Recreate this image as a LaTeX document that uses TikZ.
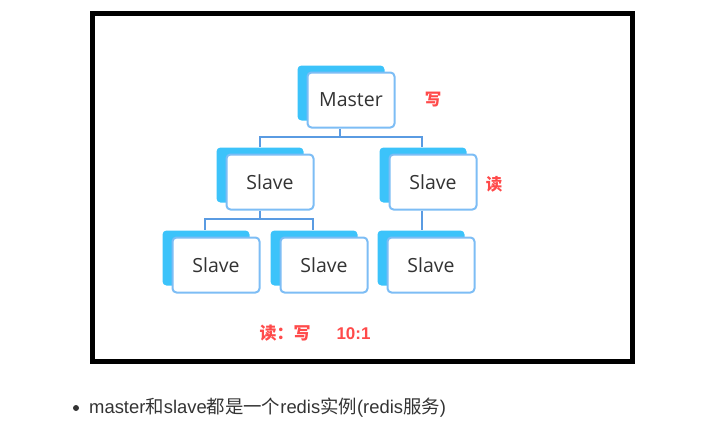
\documentclass[tikz,border=0pt]{standalone}
\usepackage{fontspec}
\setmainfont{Open Sans}
\newfontfamily\cjk{Noto Sans CJK SC}
\usetikzlibrary{shadows}
\definecolor{boxblue}{HTML}{7DBDF5}
\definecolor{backcyan}{HTML}{3CC3FA}
\definecolor{treeblue}{HTML}{5A9BE2}
\definecolor{labred}{HTML}{FF4A4A}
\definecolor{txtgray}{HTML}{333333}
\tikzset{
  redisbox/.style={draw=boxblue,line width=2pt,fill=white,rounded corners=4pt,
    minimum width=87pt,minimum height=55pt,inner sep=0pt,text=txtgray,
    font=\fontsize{19.5}{22}\selectfont,
    copy shadow={shadow xshift=-10pt,shadow yshift=7pt,fill=backcyan,draw=none}},
  treeline/.style={draw=treeblue,line width=2pt},
  redlab/.style={text=labred,font=\cjk\fontsize{16.5}{18}\selectfont\bfseries},
}
\begin{document}
\begin{tikzpicture}[x=1pt,y=-1pt]
  \useasboundingbox (0,0) rectangle (703,431);
  \draw[line width=5pt] (92.5,13.5) rectangle (632,361);
  % redis instances
  \node[redisbox] (nMaster) at (351,100) {Master};
  \node[redisbox] (nSlaveA) at (270,182) {Slave};
  \node[redisbox] (nSlaveB) at (433,182) {Slave};
  \node[redisbox] (nSlaveC) at (216,265) {Slave};
  \node[redisbox] (nSlaveD) at (324,265) {Slave};
  \node[redisbox] (nSlaveE) at (431,265) {Slave};
  % tree
  \draw[treeline] ([xshift=-11pt]nMaster.south) -- ++(0,8) coordinate (jTop);
  \draw[treeline] ([xshift=-10pt,yshift=7pt]nSlaveA.north) |- (jTop) -| ([xshift=-11pt,yshift=7pt]nSlaveB.north);
  \draw[treeline] ([xshift=-10pt]nSlaveA.south) -- ++(0,8) coordinate (jLeft);
  \draw[treeline] ([xshift=-11pt,yshift=7pt]nSlaveC.north) |- (jLeft) -| ([xshift=-11pt,yshift=7pt]nSlaveD.north);
  \draw[treeline] ([xshift=-11pt]nSlaveB.south) -- ([xshift=-9pt,yshift=7pt]nSlaveE.north);
  % labels
  \node[redlab] (lWrite) at (433,100) {写};
  \node[redlab] (lRead) at (494,184) {读};
  \node[redlab,anchor=west,font=\cjk\fontsize{17}{19}\selectfont\bfseries] (lRatio) at (256,333)
    {读：写\hspace{26pt}{\fontspec{Liberation Sans}\bfseries 10:1}};
  % note
  \fill[txtgray] (76,408) circle (3pt) coordinate (bDot);
  \node[anchor=west,text=txtgray,inner sep=0pt] (nNote) at (89,408)
    {\fontsize{18.4}{20}\selectfont\fontspec{Liberation Sans}master{\cjk 和}slave{\cjk 都是一个}redis{\cjk 实例}(redis{\cjk 服务})};
\end{tikzpicture}
\end{document}
